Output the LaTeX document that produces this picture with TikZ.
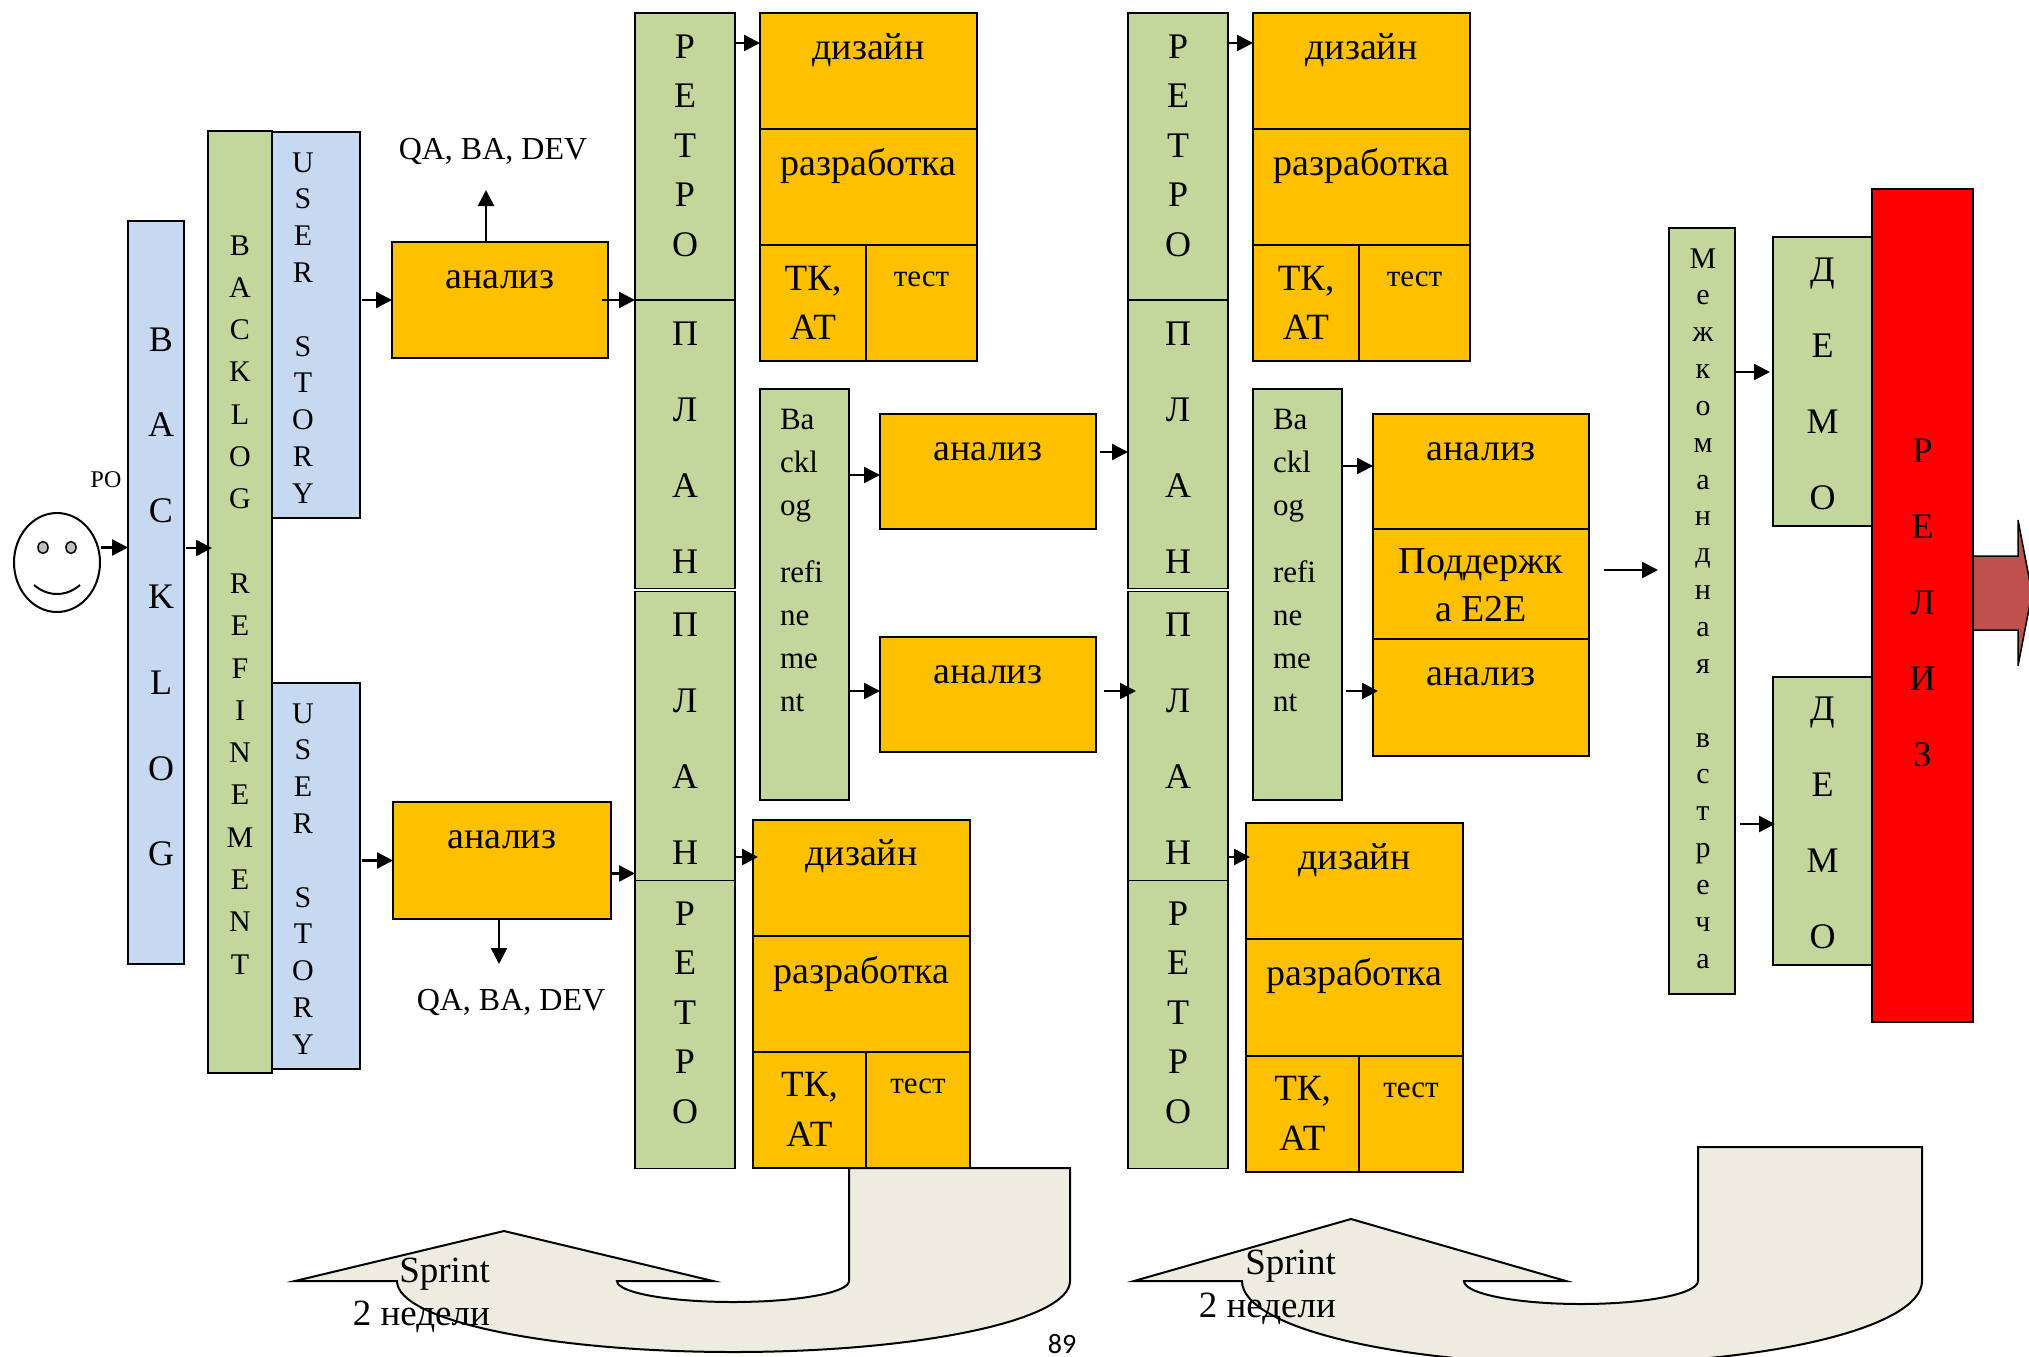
\documentclass[tikz,border=0pt]{standalone}
\usepackage{fontspec}
\setmainfont{Liberation Serif}
\newfontfamily\pagefont{Carlito}
\usetikzlibrary{arrows.meta,positioning,shapes.geometric}
\definecolor{barblue}{RGB}{198,217,241}
\definecolor{bargreen}{RGB}{195,214,155}
\definecolor{boxorange}{RGB}{255,192,0}
\definecolor{turnbeige}{RGB}{238,236,225}
\definecolor{shipred}{RGB}{192,80,77}
% first baseline sits #2 above the node centre, #1 to the right of it
\newcommand{\lift}[4]{\raisebox{#2pt}[0pt][0pt]{\makebox[0pt]{\kern#1pt\kern#1pt\parbox[t]{300pt}{\centering\baselineskip=#3pt #4}}}}
\newcommand{\liftl}[4]{\raisebox{#2pt}[0pt][0pt]{\makebox[0pt][l]{\kern#1pt\parbox[t]{120pt}{\raggedright\baselineskip=#3pt #4}}}}
\begin{document}
\begin{tikzpicture}[x=1pt,y=-1pt,node distance=0pt,>=Latex,
box/.style={draw,line width=1.8pt,inner sep=0pt,outer sep=0pt},
sized/.style 2 args={minimum width=#1pt,minimum height=#2pt},
bar/.style={box,fill=bargreen,font=\fontsize{36}{40}\selectfont},
storybar/.style={box,fill=barblue,font=\fontsize{30}{34}\selectfont},
work/.style={box,fill=boxorange,font=\fontsize{38}{42}\selectfont},
tkbox/.style={work,font=\fontsize{37}{42}\selectfont},
testbox/.style={work,font=\fontsize{31}{34}\selectfont},
thin text/.style={inner sep=0pt,font=\fontsize{32}{36}\selectfont},
turn/.style={draw,line width=2pt,fill=turnbeige},
sprint/.style={inner sep=0pt,align=right,anchor=east,font=\fontsize{37}{43}\selectfont},
arr/.style={-{Triangle[length=16pt,width=16pt]},line width=2.5pt}]
\useasboundingbox (0,0) rectangle (2029,1357);
% return arrows
\draw[turn] (849,1168) -- (1070,1168) -- (1070,1281) arc[start angle=0,end angle=-180,x radius=336.5pt,y radius=71pt] -- (295,1281) -- (504,1231) -- (713,1281) -- (617,1281) arc[start angle=180,end angle=360,x radius=116pt,y radius=21pt] -- cycle;
\draw[turn] (1698,1147) -- (1922,1147) -- (1922,1281) arc[start angle=0,end angle=-180,x radius=340pt,y radius=83pt] -- (1134,1281) -- (1351,1219) -- (1566,1281) -- (1464,1281) arc[start angle=180,end angle=360,x radius=117pt,y radius=23pt] -- cycle;
% product owner and backlog
\node[draw,ellipse,line width=2pt,sized={86}{99},inner sep=0pt] (face) at (57,562.5) {};
\node[draw,ellipse,fill=lightgray,line width=1.5pt,sized={10}{12},inner sep=0pt] (eyeleft) at (43,547.5) {};
\node[draw,ellipse,fill=lightgray,line width=1.5pt,sized={10}{12},inner sep=0pt] (eyeright) at (71,547.5) {};
\draw[line width=2pt] (34,585) .. controls (48,597) and (66,597) .. (80,585);
\node[inner sep=0pt,font=\fontsize{24}{28}\selectfont] (po) at (106,480) {PO};
\node[bar,fill=barblue,sized={56}{743}] (backlog) at (156,592.5) {\lift{5}{241.5}{85.8}{B\\A\\C\\K\\L\\O\\G}};
\node[storybar,fill=bargreen,sized={64}{942}] (refine) at (240,602) {\lift{0}{347}{42.3}{B\\A\\C\\K\\L\\O\\G\\~\\R\\E\\F\\I\\N\\E\\M\\E\\N\\T}};
\node[storybar,sized={88}{386}] (story1) at (316,325) {\lift{-13}{153}{36.8}{U\\S\\E\\R\\~\\S\\T\\O\\R\\Y}};
\node[storybar,sized={88}{386}] (story2) at (316,876) {\lift{-13}{153}{36.8}{U\\S\\E\\R\\~\\S\\T\\O\\R\\Y}};
\node[work,sized={216}{116}] (anal1) at (500,300) {\lift{0}{12}{40}{анализ}};
\node[work,sized={218}{117}] (anal2) at (502,860.5) {\lift{0}{12}{40}{анализ}};
\node[thin text] (qa1) at (493,151) {QA, BA, DEV};
\node[thin text] (qa2) at (511,1002) {QA, BA, DEV};
\coordinate (qa1in) at (486,190);
\coordinate (qa2in) at (499,964);
% first sprint
\node[bar,sized={100}{287}] (retro1) at (685,156.5) {\lift{0}{98.5}{49.5}{Р\\Е\\Т\\Р\\О}};
\node[bar,sized={100}{288.5},below=of retro1] (plan1) {\lift{0}{98.5}{76}{П\\Л\\А\\Н}};
\node[bar,sized={100}{289}] (plan2) at (685,736) {\lift{0}{100}{76.3}{П\\Л\\А\\Н}};
\node[bar,sized={100}{288},below=of plan2] (retro2) {\lift{0}{99.5}{49.5}{Р\\Е\\Т\\Р\\О}};
\node[work,sized={217}{116}] (design1) at (868.5,71) {\lift{0}{12}{40}{дизайн}};
\node[work,sized={217}{116},below=of design1] (dev1) {\lift{0}{12}{40}{разработка}};
\node[tkbox,sized={106}{116},below right=0pt and 0pt of dev1.south west] (tk1) {\lift{0}{13}{49}{ТК,\\АТ}};
\node[testbox,sized={111}{116},right=of tk1] (test1) {\lift{0}{16.5}{40}{тест}};
\node[box,fill=bargreen,sized={89}{411},font=\fontsize{31}{34}\selectfont] (ref1) at (804.5,594.5) {\liftl{-24.5}{165.5}{43}{Ba\\ckl\\og\\[24pt]refi\\ne\\me\\nt}};
\node[work,sized={216}{115}] (mid1) at (988,471.5) {\lift{0}{11.5}{40}{анализ}};
\node[work,sized={216}{115}] (mid2) at (988,694.5) {\lift{0}{11.5}{40}{анализ}};
\node[work,sized={217}{116}] (design2) at (861.5,878) {\lift{0}{13}{40}{дизайн}};
\node[work,sized={217}{116},below=of design2] (dev2) {\lift{0}{11}{40}{разработка}};
\node[tkbox,sized={113}{116},below right=0pt and 0pt of dev2.south west] (tk2) {\lift{0}{14}{50}{ТК,\\АТ}};
\node[testbox,sized={104}{116},right=of tk2] (test2) {\lift{0}{16.5}{40}{тест}};
% second sprint
\node[bar,sized={100}{287}] (retro3) at (1178,156.5) {\lift{0}{98.5}{49.5}{Р\\Е\\Т\\Р\\О}};
\node[bar,sized={100}{288.5},below=of retro3] (plan3) {\lift{0}{98.5}{76}{П\\Л\\А\\Н}};
\node[bar,sized={100}{289}] (plan4) at (1178,736) {\lift{0}{100}{76.3}{П\\Л\\А\\Н}};
\node[bar,sized={100}{288},below=of plan4] (retro4) {\lift{0}{99.5}{49.5}{Р\\Е\\Т\\Р\\О}};
\node[work,sized={217}{116}] (design3) at (1361.5,71) {\lift{0}{12}{40}{дизайн}};
\node[work,sized={217}{116},below=of design3] (dev3) {\lift{0}{12}{40}{разработка}};
\node[tkbox,sized={106}{116},below right=0pt and 0pt of dev3.south west] (tk3) {\lift{0}{13}{49}{ТК,\\АТ}};
\node[testbox,sized={111}{116},right=of tk3] (test3) {\lift{0}{16.5}{40}{тест}};
\node[box,fill=bargreen,sized={89}{411},font=\fontsize{31}{34}\selectfont] (ref2) at (1297.5,594.5) {\liftl{-24.5}{165.5}{43}{Ba\\ckl\\og\\[24pt]refi\\ne\\me\\nt}};
\node[work,sized={216}{115}] (rm1) at (1481,471.5) {\lift{0}{11.5}{40}{анализ}};
\node[work,sized={216}{110},below=of rm1] (rm2) {\lift{0}{11}{48}{Поддержк\\а E2E}};
\node[work,sized={216}{117},below=of rm2] (rm3) {\lift{0}{12.5}{40}{анализ}};
\node[work,sized={217}{116}] (design4) at (1354.5,881) {\lift{0}{12}{40}{дизайн}};
\node[work,sized={217}{117},below=of design4] (dev4) {\lift{0}{12}{40}{разработка}};
\node[tkbox,sized={113}{116},below right=0pt and 0pt of dev4.south west] (tk4) {\lift{0}{14}{50}{ТК,\\АТ}};
\node[testbox,sized={104}{116},right=of tk4] (test4) {\lift{0}{16.5}{40}{тест}};
% meeting, demo, release
\node[box,fill=bargreen,sized={66}{766},font=\fontsize{30}{34}\selectfont] (meet) at (1702,611) {\lift{1}{343}{36.85}{М\\е\\ж\\к\\о\\м\\а\\н\\д\\н\\а\\я\\~\\в\\с\\т\\р\\е\\ч\\а}};
\node[bar,sized={99}{289}] (demo1) at (1822.5,381.5) {\lift{0}{100}{76}{Д\\Е\\М\\О}};
\node[bar,sized={99}{288}] (demo2) at (1822.5,821) {\lift{0}{101}{76}{Д\\Е\\М\\О}};
\draw[line width=1.5pt,fill=shipred] (1973,556) -- (2018,556) -- (2018,520) -- (2032,593) -- (2018,666) -- (2018,630) -- (1973,630) -- cycle;
\node[box,fill=red,sized={101}{833},font=\fontsize{36}{40}\selectfont] (release) at (1922.5,605.5) {\lift{0}{143.5}{76}{Р\\Е\\Л\\И\\З}};
% captions
\node[sprint] (sprint1) at (490,1295) {Sprint\\2 недели};
\node[sprint] (sprint2) at (1336,1287) {Sprint\\2 недели};
\node[inner sep=0pt,font=\pagefont\fontsize{28}{32}\selectfont] (pagenum) at (1062,1344) {89};
% connectors
\draw[arr] ([yshift=15pt]face.east) -- ([yshift=15pt]face.east -| backlog.west);
\draw[arr] ([xshift=2pt,yshift=44.5pt]backlog.east) -- ([xshift=4pt,yshift=44.5pt]backlog.east -| refine.west);
\draw[arr] ([xshift=2pt]anal1.west -| story1.east) -- (anal1.west);
\draw[arr] (anal1.north -| qa1in) -- (qa1in);
\draw[arr] ([xshift=-6pt]anal1.east) -- (anal1.east -| plan1.west);
\draw[arr] ([xshift=2pt]anal2.west -| story2.east) -- (anal2.west);
\draw[arr] (anal2.south -| qa2in) -- (qa2in);
\draw[arr] ([yshift=-13pt]anal2.east) -- ([yshift=-13pt]anal2.east -| plan2.west);
\draw[arr] ([yshift=28pt]design1.west -| retro1.east) -- ([yshift=28pt]design1.west);
\draw[arr] ([yshift=21pt]design2.west -| plan2.east) -- ([xshift=5pt,yshift=21pt]design2.west);
\draw[arr] ([yshift=-3.5pt]mid1.west -| ref1.east) -- ([yshift=-3.5pt]mid1.west);
\draw[arr] ([yshift=3.5pt]mid2.west -| ref1.east) -- ([yshift=3.5pt]mid2.west);
\draw[arr] ([xshift=4pt,yshift=19.5pt]mid1.east) -- ([yshift=19.5pt]mid1.east -| plan3.west);
\draw[arr] ([xshift=8pt,yshift=3.5pt]mid2.east) -- ([xshift=8pt,yshift=3.5pt]mid2.east -| plan4.west);
\draw[arr] ([yshift=28pt]design3.west -| retro3.east) -- ([yshift=28pt]design3.west);
\draw[arr] ([yshift=24pt]design4.west -| plan4.east) -- ([xshift=4pt,yshift=24pt]design4.west);
\draw[arr] ([yshift=5.5pt]rm1.west -| ref2.east) -- ([yshift=5.5pt]rm1.west);
\draw[arr] ([xshift=4pt,yshift=6.5pt]rm3.west -| ref2.east) -- ([xshift=5pt,yshift=6.5pt]rm3.west);
\draw[arr] ([xshift=15pt,yshift=14pt]rm2.east) -- ([xshift=-11pt,yshift=41pt]meet.west);
\draw[arr] ([yshift=9.5pt]demo1.west -| meet.east) -- ([xshift=-3pt,yshift=9.5pt]demo1.west);
\draw[arr] ([xshift=5pt,yshift=-3pt]demo2.west -| meet.east) -- ([xshift=2pt,yshift=-3pt]demo2.west);
\end{tikzpicture}
\end{document}
